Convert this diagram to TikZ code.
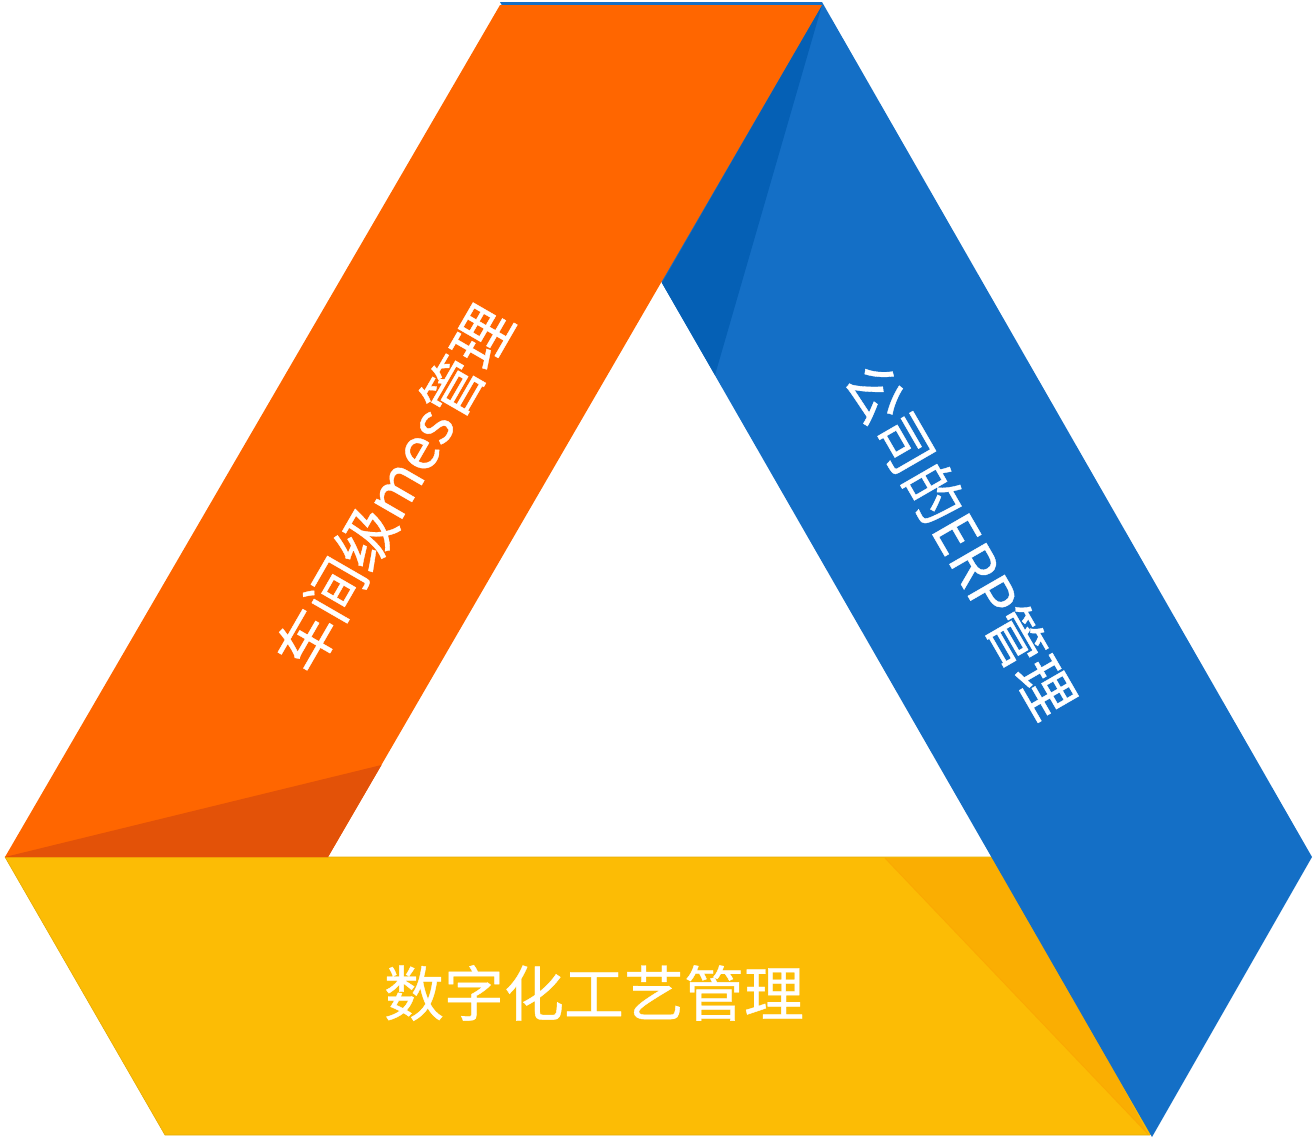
\documentclass[tikz,border=0pt]{standalone}
\usepackage{fontspec}
\newfontfamily\cjk[FakeBold=0.6]{Noto Sans CJK SC}
\definecolor{orangeA}{HTML}{FF6600}
\definecolor{orangeB}{HTML}{E35208}
\definecolor{blueA}{HTML}{146FC6}
\definecolor{blueB}{HTML}{0560B5}
\definecolor{yellowA}{HTML}{FCBC05}
\definecolor{yellowB}{HTML}{FAAE02}
\tikzset{
  band/.style={line width=0.6pt, line join=round},
  label/.style={text=white, font=\cjk\fontsize{59}{62}\selectfont, inner sep=0pt}
}
\begin{document}
\begin{tikzpicture}[x=1pt,y=-1pt]
\useasboundingbox (0,0) rectangle (1314,1141);
% yellow band
\fill[yellowA, band, draw=yellowA!85!black!60!yellowA] (5,857) -- (1308,857) -- (1150,1135) -- (165,1135) -- cycle;
\fill[yellowB] (885,858) -- (1000,858) -- (1148,1134) -- cycle;
\draw[yellowB!90!orange, line width=0.8pt] (885,858) -- (1148,1134);
% blue band
\fill[blueA] (500,2) -- (822,2) -- (1312,857) -- (1152,1137) -- (662,283) -- cycle;
\fill[blueB] (822,5) -- (662,283) -- (715,375) -- cycle;
% orange band
\fill[orangeA] (500,5) -- (822,5) -- (328,857) -- (5,857) -- cycle;
\fill[orangeB] (5,857) -- (381.5,765) -- (328,857) -- cycle;
% labels
\node[label, rotate=60] (mes) at (394,488) {车间级mes管理};
\node[label, rotate=-60, font=\cjk\fontsize{58}{62}\selectfont] (erp) at (961,540) {公司的ERP管理};
\node[label, font=\cjk\fontsize{60}{64}\selectfont] (gy) at (594,993) {数字化工艺管理};
\end{tikzpicture}
\end{document}
